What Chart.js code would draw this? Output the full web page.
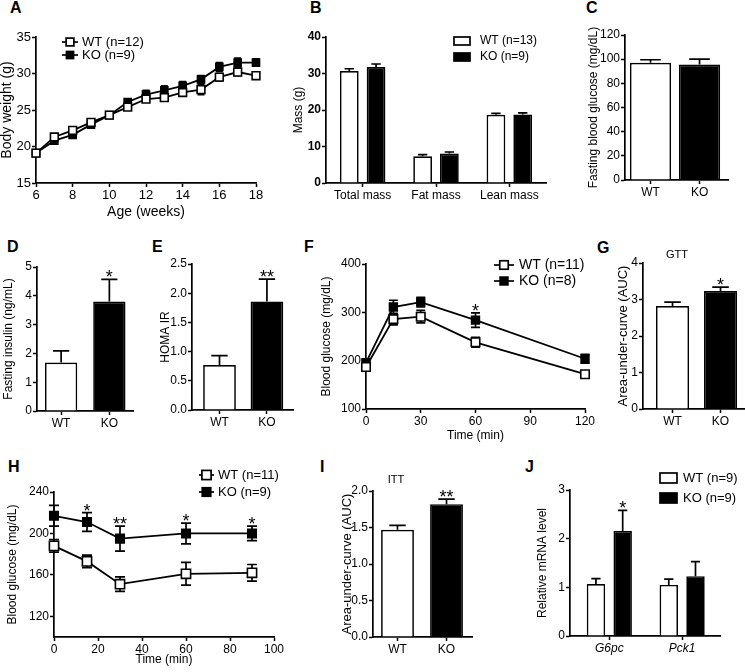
<!DOCTYPE html>
<html>
<head>
<meta charset="utf-8">
<title>WT vs KO metabolic phenotype</title>
<script src="https://cdn.jsdelivr.net/npm/chart.js"></script>
<style>
  body { margin: 0; background: #fff; }
  #fig { position: relative; width: 745px; height: 672px; overflow: hidden;
         font-family: 'Liberation Sans', Arial, Helvetica, sans-serif; }
  #fig canvas { position: absolute; }
  .tag { position: absolute; font-weight: bold; font-size: 16px; line-height: 16px; }
</style>
</head>
<body>
<div id="fig">
  <div class="tag" style="left:10px;top:0px">A</div>
  <div class="tag" style="left:310px;top:0px">B</div>
  <div class="tag" style="left:586px;top:0px">C</div>
  <div class="tag" style="left:7px;top:239px">D</div>
  <div class="tag" style="left:152px;top:239px">E</div>
  <div class="tag" style="left:304px;top:239px">F</div>
  <div class="tag" style="left:597px;top:240px">G</div>
  <div class="tag" style="left:8px;top:459px">H</div>
  <div class="tag" style="left:320px;top:459px">I</div>
  <div class="tag" style="left:525px;top:459px">J</div>
</div>

<script>
    const groups = ['WT', 'KO'];

    // A - body weight
    const ageWeeks = [6, 7, 8, 9, 10, 11, 12, 13, 14, 15, 16, 17, 18];
    const weightNames = ['WT (n=12)', 'KO (n=9)'];
    const weightWT = [19.1, 21.3, 22.2, 23.3, 24.3, 25.4, 26.5, 26.7, 27.4, 27.8, 29.5, 30.2, 29.7];
    const weightWTsem = [0.3, 0.3, 0.3, 0.3, 0.3, 0.4, 0.4, 0.5, 0.5, 0.7, 0.5, 0.5, 0.4];
    const weightKO = [19.1, 20.8, 21.6, 23.0, 24.3, 26.1, 27.1, 27.7, 28.3, 29.2, 30.9, 31.5, 31.5];
    const weightKOsem = [0.3, 0.3, 0.3, 0.3, 0.3, 0.4, 0.6, 0.6, 0.6, 0.5, 0.6, 0.6, 0.5];

    // B - body composition
    const massParts = ['Total mass', 'Fat mass', 'Lean mass'];
    const massNames = ['WT (n=13)', 'KO (n=9)'];
    const massWT = [30.7, 7.3, 18.7];
    const massWTsem = [0.6, 0.5, 0.4];
    const massKO = [31.8, 8.1, 18.8];
    const massKOsem = [0.8, 0.4, 0.4];

    // C - fasting glucose
    const glucoseFast = [97, 95.5];
    const glucoseFastSem = [2.5, 4.5];

    // D - fasting insulin
    const insulinFast = [1.68, 3.8];
    const insulinFastSem = [0.41, 0.77];
    const insulinStars = ['', '*'];

    // E - HOMA IR
    const homaIR = [0.77, 1.86];
    const homaSem = [0.16, 0.38];
    const homaStars = ['', '**'];

    // F - GTT
    const gttMin = [0, 15, 30, 60, 120];
    const gttNames = ['WT (n=11)', 'KO (n=8)'];
    const gttWT = [187, 286, 291, 238, 172];
    const gttWTsem = [8, 12, 13, 10, 7];
    const gttKO = [196, 311, 321, 284, 204];
    const gttKOsem = [5, 14, 10, 15, 9];
    const gttStars = ['', '', '', '*', ''];

    // G - GTT area under curve
    const gttAuc = [2.82, 3.23];
    const gttAucSem = [0.11, 0.11];
    const gttAucStars = ['', '*'];

    // H - ITT
    const ittMin = [0, 15, 30, 60, 90];
    const ittNames = ['WT (n=11)', 'KO (n=9)'];
    const ittWT = [188, 173, 151, 161, 162];
    const ittWTsem = [6, 6, 7, 11, 8];
    const ittKO = [217, 211, 195, 200, 200];
    const ittKOsem = [10, 9, 12, 10, 7];
    const ittStars = ['', '*', '**', '*', '*'];

    // I - ITT area under curve
    const ittAuc = [1.47, 1.82];
    const ittAucSem = [0.06, 0.07];
    const ittAucStars = ['', '**'];

    // J - liver mRNA
    const genes = ['G6pc', 'Pck1'];
    const mrnaNames = ['WT (n=9)', 'KO (n=9)'];
    const mrnaWT = [1.07, 1.05];
    const mrnaWTsem = [0.11, 0.12];
    const mrnaKO = [2.16, 1.23];
    const mrnaKOsem = [0.42, 0.30];
    const mrnaStars = ['*', ''];

    const FONT = "'Liberation Sans', Arial, Helvetica, sans-serif";
    Chart.defaults.font.family = FONT;
    Chart.defaults.color = '#000';

    const pts = (xs, ys) => ys.map((v, i) => ({ x: xs[i], y: v }));
    const idx = arr => arr.map((_, i) => i + 1);

    // error bars, significance stars, legend and small captions
    function drawErr(chart) {
        const ctx = chart.ctx, y = chart.scales.y, isBar = chart.config.type === 'bar';
        chart.data.datasets.forEach((ds, di) => {
            if (!ds.err) return;
            chart.getDatasetMeta(di).data.forEach((el, i) => {
                const v = ds.data[i].y, e = ds.err[i];
                const top = y.getPixelForValue(v + e);
                const bot = y.getPixelForValue(isBar ? v : v - e);
                const cap = ds.cap || el.width * 0.5;
                ctx.save();
                ctx.strokeStyle = '#000';
                ctx.lineWidth = 1.7;
                ctx.beginPath();
                ctx.moveTo(el.x, bot); ctx.lineTo(el.x, top);
                ctx.moveTo(el.x - cap / 2, top); ctx.lineTo(el.x + cap / 2, top);
                if (!isBar) { ctx.moveTo(el.x - cap / 2, bot); ctx.lineTo(el.x + cap / 2, bot); }
                ctx.stroke();
                ctx.restore();
            });
        });
    }

    function drawStars(chart) {
        const ctx = chart.ctx, y = chart.scales.y;
        chart.data.datasets.forEach((ds, di) => {
            if (!ds.stars) return;
            chart.getDatasetMeta(di).data.forEach((el, i) => {
                if (!ds.stars[i]) return;
                const top = y.getPixelForValue(ds.data[i].y + ds.err[i]);
                ctx.save();
                ctx.font = '18px ' + FONT;
                ctx.textAlign = 'center';
                ctx.textBaseline = 'alphabetic';
                ctx.fillStyle = '#000';
                ctx.fillText(ds.stars[i], el.x, top + 4);
                ctx.restore();
            });
        });
    }

    function drawKey(chart, o) {
        const ctx = chart.ctx, k = o.key;
        chart.data.datasets.forEach((ds, i) => {
            const x = k.x - o.origin.x, cy = k.y + i * k.dy - o.origin.y;
            ctx.save();
            ctx.strokeStyle = '#000';
            ctx.lineWidth = 1.7;
            if (chart.config.type === 'bar') {
                ctx.fillStyle = ds.backgroundColor;
                ctx.fillRect(x, cy - k.h / 2, k.w, k.h);
                ctx.strokeRect(x, cy - k.h / 2, k.w, k.h);
            } else {
                ctx.beginPath();
                ctx.moveTo(x, cy); ctx.lineTo(x + k.w, cy);
                ctx.stroke();
                const s = Math.SQRT1_2 * ds.pointRadius;
                ctx.fillStyle = ds.pointBackgroundColor;
                ctx.fillRect(x + k.w / 2 - s, cy - s, 2 * s, 2 * s);
                ctx.strokeRect(x + k.w / 2 - s, cy - s, 2 * s, 2 * s);
            }
            ctx.fillStyle = '#000';
            ctx.font = k.size + 'px ' + FONT;
            ctx.textBaseline = 'middle';
            ctx.fillText(ds.label, x + k.w + k.gap, cy);
            ctx.restore();
        });
    }

    function drawCaption(chart, o) {
        const ctx = chart.ctx, c = o.caption;
        ctx.save();
        ctx.font = c.size + 'px ' + FONT;
        ctx.fillStyle = '#000';
        ctx.textAlign = 'center';
        ctx.textBaseline = 'middle';
        ctx.fillText(c.text, c.x - o.origin.x, c.y - o.origin.y);
        ctx.restore();
    }

    Chart.register({
        id: 'errbars',
        beforeDatasetsDraw(chart) { if (chart.config.type === 'line') drawErr(chart); },
        afterDatasetsDraw(chart, args, opts) {
            if (chart.config.type === 'bar') drawErr(chart);
            drawStars(chart);
            if (opts.key) drawKey(chart, opts);
            if (opts.caption) drawCaption(chart, opts);
        }
    });

    function axis(o) {
        const s = {
            type: 'linear', min: o.min, max: o.max, offset: false,
            border: { display: true, color: '#000', width: 1.7 },
            grid: { display: true, drawOnChartArea: false, drawTicks: true, tickLength: 4,
                    tickWidth: 1.5, tickColor: '#000', offset: false },
            ticks: { color: '#000', padding: 1, stepSize: o.step,
                     font: { size: o.size || 12, weight: o.bold ? 'bold' : 'normal',
                             style: o.italic ? 'italic' : 'normal' } }
        };
        if (o.at) s.afterBuildTicks = sc => { sc.ticks = o.at.map(v => ({ value: v })); };
        if (o.names) s.ticks.callback = v => o.names[v - 1];
        if (o.fixed != null) s.ticks.callback = v => v.toFixed(o.fixed);
        return s;
    }

    function lineSet(label, xs, ys, sem, fill, r, cap, stars) {
        return { label: label, data: pts(xs, ys), err: sem, cap: cap, stars: stars,
                 borderColor: '#000', borderWidth: 1.8, tension: 0, clip: false,
                 pointStyle: 'rect', pointRadius: r, pointBackgroundColor: fill,
                 pointBorderColor: '#000', pointBorderWidth: 1.6 };
    }

    function barSet(label, ys, sem, fill, cat, bar, stars) {
        return { label: label, data: pts(idx(ys), ys), err: sem, stars: stars,
                 backgroundColor: fill, borderColor: '#000', borderWidth: 1.7,
                 categoryPercentage: cat, barPercentage: bar };
    }

    // place one chart so that its plot area lands on the given box
    function panel(spec) {
        const p = spec.plot, yt = spec.yTitle, xt = spec.xTitle;
        const yLh = yt.size * 1.2;
        const bx = Math.floor(yt.x - yLh / 2 - 2);
        const by = p.t - 30;
        const right = spec.right != null ? spec.right : 20;
        const bw = p.r + right - bx;
        const bb = xt ? Math.ceil(xt.y + xt.size * 0.6 + 2) : p.b + 30;
        const bh = bb - by;

        const cv = document.createElement('canvas');
        cv.width = bw; cv.height = bh;
        cv.style.left = bx + 'px'; cv.style.top = by + 'px';
        document.getElementById('fig').appendChild(cv);

        const o = spec.config.options;
        o.responsive = false;
        o.animation = false;
        o.events = [];
        o.layout = { padding: { top: p.t - by, right: bx + bw - p.r, left: 0, bottom: 0 } };
        o.plugins = Object.assign({ legend: { display: false }, tooltip: { enabled: false } }, o.plugins);
        o.plugins.errbars = Object.assign({ origin: { x: bx, y: by } }, o.plugins.errbars || {});
        o.scales.y.afterFit = s => { s.width = p.l - bx; };
        o.scales.x.afterFit = s => { s.height = by + bh - p.b; };
        o.scales.y.title = { display: true, text: yt.text, font: { size: yt.size },
                             padding: { top: yt.x - bx - yLh / 2, bottom: 0 } };
        if (xt) o.scales.x.title = { display: true, text: xt.text, font: { size: xt.size },
                                     padding: { top: 0, bottom: bb - xt.y - xt.size * 0.6 } };
        return new Chart(cv, spec.config);
    }

    // A
    panel({
        plot: { l: 36, t: 37, r: 256, b: 183 },
        yTitle: { text: 'Body weight (g)', x: 7, size: 14 },
        xTitle: { text: 'Age (weeks)', y: 212, size: 14 },
        config: {
            type: 'line',
            data: { datasets: [
                lineSet(weightNames[0], ageWeeks, weightWT, weightWTsem, '#fff', 5.5, 7),
                lineSet(weightNames[1], ageWeeks, weightKO, weightKOsem, '#000', 5, 7)
            ] },
            options: {
                scales: { x: axis({ min: 6, max: 18, step: 2, size: 13 }),
                          y: axis({ min: 15, max: 35, step: 5, size: 13 }) },
                plugins: { errbars: { key: { x: 62, y: 42, dy: 13, w: 16, gap: 4, size: 13 } } }
            }
        }
    });

    // B
    panel({
        plot: { l: 326, t: 37, r: 546, b: 183 },
        yTitle: { text: 'Mass (g)', x: 299, size: 12 },
        config: {
            type: 'bar',
            data: { datasets: [
                barSet(massNames[0], massWT, massWTsem, '#fff', 0.73, 0.7),
                barSet(massNames[1], massKO, massKOsem, '#000', 0.73, 0.7)
            ] },
            options: {
                scales: { x: axis({ min: 0.5, max: 3.5, at: idx(massParts), names: massParts, size: 12 }),
                          y: axis({ min: 0, max: 40, step: 10, size: 12, bold: true }) },
                plugins: { errbars: { key: { x: 454, y: 41, dy: 16, w: 16, h: 8, gap: 10, size: 12 } } }
            }
        }
    });

    // C
    panel({
        plot: { l: 625, t: 35, r: 728, b: 180 },
        right: 17,
        yTitle: { text: 'Fasting blood glucose (mg/dL)', x: 594, size: 12 },
        config: {
            type: 'bar',
            data: { datasets: [ barSet('', glucoseFast, glucoseFastSem, ['#fff', '#000'], 1, 0.84) ] },
            options: {
                scales: { x: axis({ min: 0.48, max: 2.58, at: [1, 2], names: groups, size: 12 }),
                          y: axis({ min: 0, max: 120, step: 20, size: 12 }) }
            }
        }
    });

    // D
    panel({
        plot: { l: 37, t: 267, r: 133, b: 411 },
        yTitle: { text: 'Fasting insulin (ng/mL)', x: 9, size: 12 },
        config: {
            type: 'bar',
            data: { datasets: [ barSet('', insulinFast, insulinFastSem, ['#fff', '#000'], 1, 0.67, insulinStars) ] },
            options: {
                scales: { x: axis({ min: 0.5, max: 2.49, at: [1, 2], names: groups }),
                          y: axis({ min: 0, max: 5, step: 1 }) }
            }
        }
    });

    // E
    panel({
        plot: { l: 192, t: 264, r: 293, b: 410 },
        yTitle: { text: 'HOMA IR', x: 166, size: 12 },
        config: {
            type: 'bar',
            data: { datasets: [ barSet('', homaIR, homaSem, ['#fff', '#000'], 1, 0.69, homaStars) ] },
            options: {
                scales: { x: axis({ min: 0.42, max: 2.55, at: [1, 2], names: groups }),
                          y: axis({ min: 0, max: 2.5, step: 0.5, fixed: 1 }) }
            }
        }
    });

    // F
    panel({
        plot: { l: 366, t: 264, r: 585, b: 409 },
        yTitle: { text: 'Blood glucose (mg/dL)', x: 327, size: 12 },
        xTitle: { text: 'Time (min)', y: 436, size: 12 },
        config: {
            type: 'line',
            data: { datasets: [
                lineSet(gttNames[0], gttMin, gttWT, gttWTsem, '#fff', 6, 9),
                lineSet(gttNames[1], gttMin, gttKO, gttKOsem, '#000', 5.5, 9, gttStars)
            ] },
            options: {
                scales: { x: axis({ min: 0, max: 120, step: 30 }),
                          y: axis({ min: 100, max: 400, step: 100 }) },
                plugins: { errbars: { key: { x: 494, y: 265, dy: 16, w: 20, gap: 5, size: 14 } } }
            }
        }
    });

    // G
    panel({
        plot: { l: 643, t: 263, r: 745, b: 409 },
        right: 0,
        yTitle: { text: 'Area-under-curve (AUC)', x: 623, size: 13 },
        config: {
            type: 'bar',
            data: { datasets: [ barSet('', gttAuc, gttAucSem, ['#fff', '#000'], 1, 0.69, gttAucStars) ] },
            options: {
                scales: { x: axis({ min: 0.385, max: 2.51, at: [1, 2], names: groups }),
                          y: axis({ min: 0, max: 4, step: 1 }) },
                plugins: { errbars: { caption: { text: 'GTT', x: 677, y: 255, size: 11 } } }
            }
        }
    });

    // H
    panel({
        plot: { l: 54, t: 492, r: 274, b: 637 },
        yTitle: { text: 'Blood glucose (mg/dL)', x: 13, size: 12 },
        xTitle: { text: 'Time (min)', y: 660, size: 12 },
        config: {
            type: 'line',
            data: { datasets: [
                lineSet(ittNames[0], ittMin, ittWT, ittWTsem, '#fff', 6.5, 10),
                lineSet(ittNames[1], ittMin, ittKO, ittKOsem, '#000', 6, 10, ittStars)
            ] },
            options: {
                scales: { x: axis({ min: 0, max: 100, step: 20 }),
                          y: axis({ min: 100, max: 240, at: [120, 160, 200, 240] }) },
                plugins: { errbars: { key: { x: 199, y: 475, dy: 17, w: 15, gap: 4, size: 13 } } }
            }
        }
    });

    // I
    panel({
        plot: { l: 373, t: 491, r: 472, b: 637 },
        yTitle: { text: 'Area-under-curve (AUC)', x: 347, size: 13 },
        config: {
            type: 'bar',
            data: { datasets: [ barSet('', ittAuc, ittAucSem, ['#fff', '#000'], 1, 0.67, ittAucStars) ] },
            options: {
                scales: { x: axis({ min: 0.5, max: 2.52, at: [1, 2], names: groups }),
                          y: axis({ min: 0, max: 2, step: 0.5, fixed: 1 }) },
                plugins: { errbars: { caption: { text: 'ITT', x: 396, y: 480, size: 11 } } }
            }
        }
    });

    // J
    panel({
        plot: { l: 570, t: 490, r: 720, b: 636 },
        yTitle: { text: 'Relative mRNA level', x: 543, size: 12 },
        config: {
            type: 'bar',
            data: { datasets: [
                barSet(mrnaNames[0], mrnaWT, mrnaWTsem, '#fff', 0.734, 0.69),
                barSet(mrnaNames[1], mrnaKO, mrnaKOsem, '#000', 0.734, 0.69, mrnaStars)
            ] },
            options: {
                scales: { x: axis({ min: 0.46, max: 2.52, at: [1, 2], names: genes, italic: true }),
                          y: axis({ min: 0, max: 3, step: 1 }) },
                plugins: { errbars: { key: { x: 660, y: 478, dy: 20, w: 17, h: 10, gap: 6, size: 13 } } }
            }
        }
    });
</script>
</body>
</html>
